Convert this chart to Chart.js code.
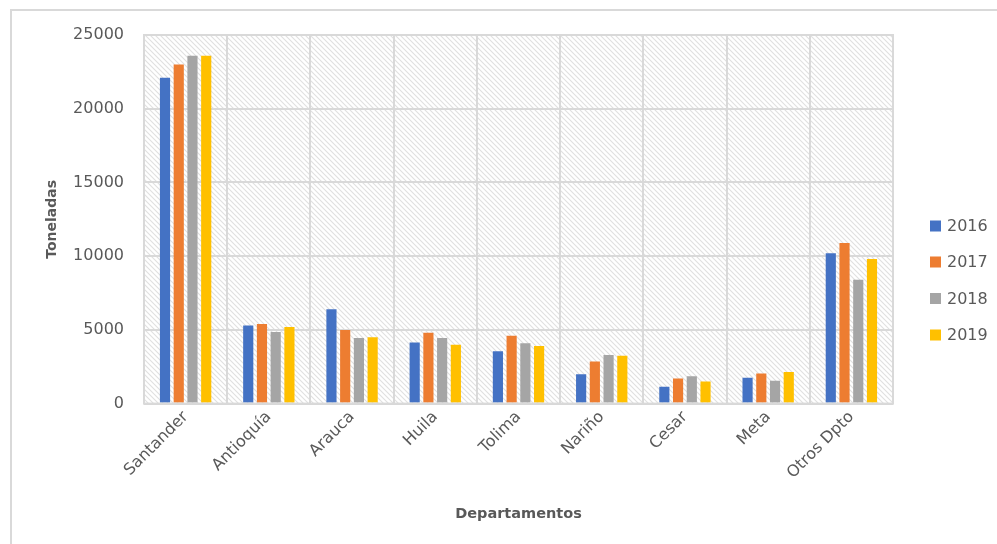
<!DOCTYPE html>
<html>
<head>
<meta charset="utf-8">
<script src="https://cdn.jsdelivr.net/npm/chart.js@4/dist/chart.umd.min.js"></script>
<style>
html,body{margin:0;padding:0;background:#fff;}
#wrap{position:absolute;left:0;top:0;width:997px;height:544px;}
</style>
</head>
<body>
<div id="wrap"><canvas id="c" width="997" height="544"></canvas></div>
<script>
const categories = ["Santander","Antioquía","Arauca","Huila","Tolima","Nariño","Cesar","Meta","Otros Dpto"];
const seriesNames = ["2016","2017","2018","2019"];
const values2016 = [22100, 5300, 6400, 4150, 3550, 2000, 1150, 1750, 10200];
const values2017 = [23000, 5400, 5000, 4800, 4600, 2850, 1700, 2050, 10900];
const values2018 = [23600, 4850, 4450, 4450, 4100, 3300, 1850, 1550, 8400];
const values2019 = [23600, 5200, 4500, 4000, 3900, 3250, 1500, 2150, 9800];
const seriesColors = ["#4472C4","#ED7D31","#A5A5A5","#FFC000"];
const yTicks = [0, 5000, 10000, 15000, 20000, 25000];
const yTitle = "Toneladas";
const xTitle = "Departamentos";

const allValues = [values2016, values2017, values2018, values2019];
const FONT = "'DejaVu Sans', sans-serif";
const TXT = "#595959";

function makePattern(ctx){
  const s = 5;
  const pc = document.createElement('canvas');
  pc.width = s; pc.height = s;
  const p = pc.getContext('2d');
  p.fillStyle = '#ffffff';
  p.fillRect(0,0,s,s);
  p.strokeStyle = '#e0e0e0';
  p.lineWidth = 1.1;
  p.beginPath();
  p.moveTo(-1,-1); p.lineTo(s+1,s+1);
  p.moveTo(-1,s-1); p.lineTo(1,s+1);
  p.moveTo(s-1,-1); p.lineTo(s+1,1);
  p.stroke();
  return ctx.createPattern(pc,'repeat');
}

const bgPlugin = {
  id: 'bg',
  beforeDraw(chart){
    const ctx = chart.ctx;
    const a = chart.chartArea;
    ctx.save();
    ctx.fillStyle = '#ffffff';
    ctx.fillRect(0,0,chart.width,chart.height);
    ctx.strokeStyle = '#d9d9d9';
    ctx.lineWidth = 2;
    ctx.strokeRect(11, 10, 1100, 700);
    ctx.fillStyle = makePattern(ctx);
    ctx.fillRect(a.left, a.top, a.right-a.left, a.bottom-a.top);
    ctx.restore();
  },
  afterDraw(chart){
    const ctx = chart.ctx;
    const a = chart.chartArea;
    ctx.save();
    ctx.strokeStyle = '#d9d9d9';
    ctx.lineWidth = 2;
    ctx.strokeRect(a.left, a.top, a.right-a.left, a.bottom-a.top);
    // legend
    ctx.font = "16px " + FONT;
    ctx.textBaseline = 'middle';
    ctx.textAlign = 'left';
    const ys = [226, 262, 298.5, 335];
    chart.data.datasets.forEach((ds, i) => {
      ctx.fillStyle = ds.backgroundColor;
      ctx.fillRect(930, ys[i]-5.5, 11, 11);
      ctx.fillStyle = TXT;
      ctx.fillText(ds.label, 947, ys[i]+1);
    });
    ctx.restore();
  }
};

new Chart(document.getElementById('c'), {
  type: 'bar',
  data: {
    labels: categories,
    datasets: seriesNames.map((n,i) => ({
      label: n,
      data: allValues[i],
      backgroundColor: seriesColors[i],
      borderWidth: 0,
      categoryPercentage: 0.66,
      barPercentage: 0.74
    }))
  },
  options: {
    responsive: false,
    animation: false,
    devicePixelRatio: 1,
    layout: { padding: { left: 44, right: 104, top: 35, bottom: 21 } },
    plugins: { legend: { display: false }, tooltip: { enabled: false } },
    scales: {
      x: {
        grid: { color: '#d9d9d9', lineWidth: 2, drawTicks: false, offset: true },
        border: { display: false },
        ticks: { color: TXT, font: { family: FONT, size: 16 }, maxRotation: 45, minRotation: 45, padding: 4 },
        title: { display: true, text: xTitle, color: TXT, font: { family: FONT, size: 14.5, weight: 'bold' }, padding: { top: 19, bottom: 0 } }
      },
      y: {
        min: 0, max: 25000,
        afterBuildTicks(axis){ axis.ticks = yTicks.map(v => ({ value: v })); },
        afterFit(axis){ axis.width = 100; },
        grid: { color: '#d9d9d9', lineWidth: 2, drawTicks: false },
        border: { display: false },
        ticks: { color: TXT, font: { family: FONT, size: 16 }, padding: 20, callback: v => String(v) },
        title: { display: true, text: yTitle, color: TXT, font: { family: FONT, size: 14, weight: 'bold' }, padding: { top: 0, bottom: 0 } }
      }
    }
  },
  plugins: [bgPlugin]
});
</script>
</body>
</html>
